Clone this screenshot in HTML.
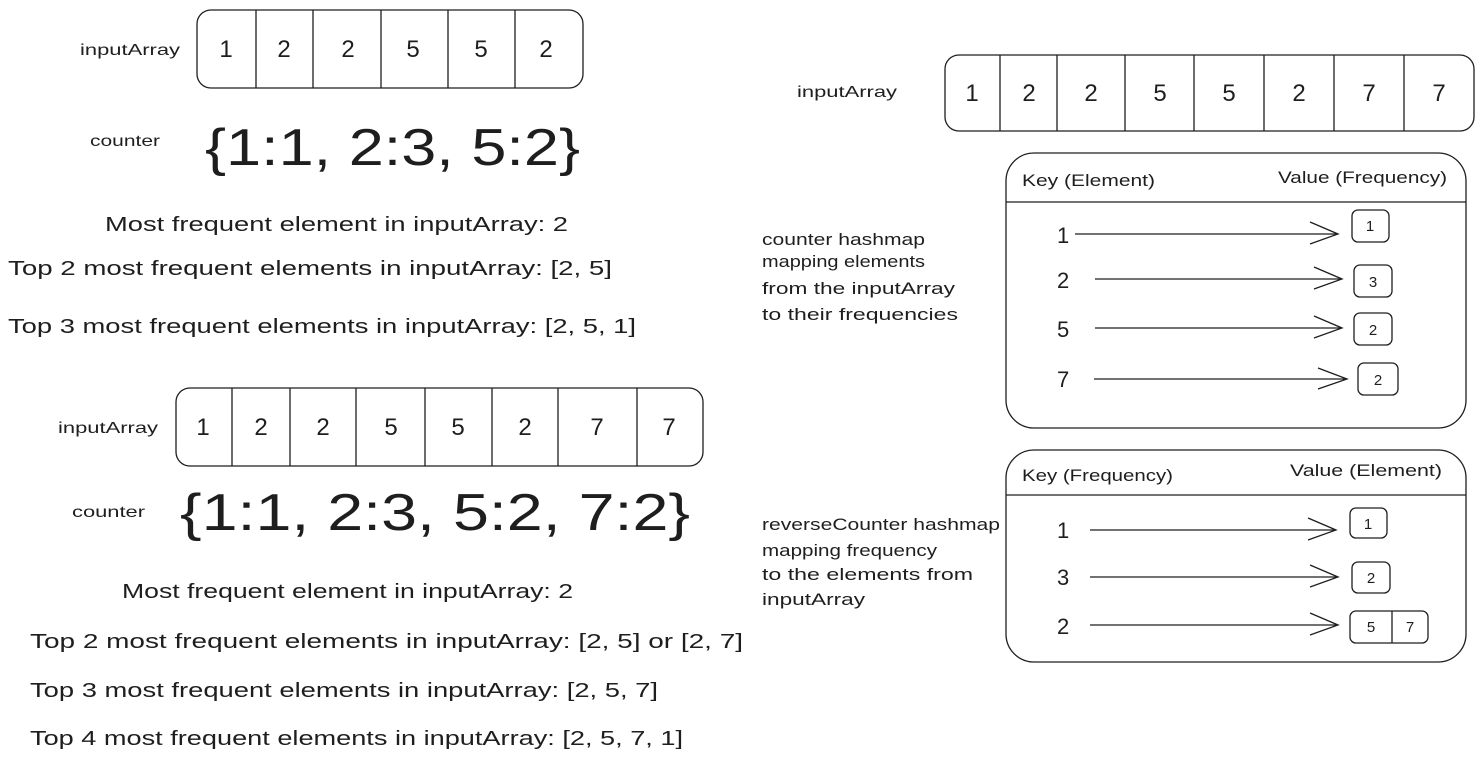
<!DOCTYPE html>
<html><head><meta charset="utf-8"><style>
html,body{margin:0;padding:0;background:#fff;}
svg{display:block;}
text{font-family:"Liberation Sans",sans-serif;fill:#1e1e1e;}
</style></head><body>
<svg width="1482" height="762" viewBox="0 0 1482 762" xmlns="http://www.w3.org/2000/svg">
<g fill="none" stroke="#1e1e1e" stroke-width="1.3">
<rect x="197" y="10" width="386" height="78" rx="14"/>
<path d="M256 10V88M313 10V88M381 10V88M448 10V88M515 10V88"/>
<rect x="176" y="388" width="527" height="78" rx="14"/>
<path d="M232 388V466M290 388V466M356 388V466M425 388V466M492 388V466M558 388V466M637 388V466"/>
<rect x="945" y="55" width="529" height="76" rx="14"/>
<path d="M1000 55V131M1057 55V131M1125 55V131M1194 55V131M1264 55V131M1334 55V131M1404 55V131"/>
<rect x="1006" y="153" width="460" height="275" rx="28"/>
<path d="M1006 202H1466"/>
<path d="M1075 234H1338M1310 222L1338 234L1310 244"/>
<rect x="1352" y="210" width="37" height="32" rx="6"/>
<path d="M1095 279H1342M1314 267L1342 279L1314 289"/>
<rect x="1354" y="265" width="38" height="32" rx="6"/>
<path d="M1095 328H1342M1314 316L1342 328L1314 338"/>
<rect x="1354" y="313" width="38" height="32" rx="6"/>
<path d="M1094 379H1347M1318 368L1347 379L1318 389"/>
<rect x="1358" y="363" width="40" height="32" rx="6"/>
<rect x="1006" y="450" width="460" height="212" rx="28"/>
<path d="M1006 495H1466"/>
<path d="M1090 530H1336M1308 518L1336 530L1308 540"/>
<rect x="1350" y="508" width="37" height="30" rx="6"/>
<path d="M1090 577H1338M1310 565L1338 577L1310 587"/>
<rect x="1352" y="562" width="38" height="31" rx="6"/>
<path d="M1090 625H1338M1310 613L1338 625L1310 635"/>
<rect x="1350" y="611" width="78" height="32" rx="6"/>
<path d="M1392 611V643"/>
</g>
<g font-size="16" lengthAdjust="spacingAndGlyphs">
<text x="80" y="55" textLength="100" lengthAdjust="spacingAndGlyphs">inputArray</text>
<text x="90" y="146" textLength="70" lengthAdjust="spacingAndGlyphs">counter</text>
<text x="58" y="433" textLength="100" lengthAdjust="spacingAndGlyphs">inputArray</text>
<text x="72" y="517" textLength="73" lengthAdjust="spacingAndGlyphs">counter</text>
<text x="797" y="97" textLength="100" lengthAdjust="spacingAndGlyphs">inputArray</text>
</g>
<g font-size="24" text-anchor="middle">
<text x="226" y="57">1</text><text x="284" y="57">2</text><text x="348" y="57">2</text><text x="413" y="57">5</text><text x="481" y="57">5</text><text x="546" y="57">2</text>
<text x="203" y="435">1</text><text x="261" y="435">2</text><text x="323" y="435">2</text><text x="391" y="435">5</text><text x="458" y="435">5</text><text x="525" y="435">2</text><text x="597" y="435">7</text><text x="669" y="435">7</text>
<text x="972" y="101">1</text><text x="1029" y="101">2</text><text x="1091" y="101">2</text><text x="1160" y="101">5</text><text x="1229" y="101">5</text><text x="1299" y="101">2</text><text x="1369" y="101">7</text><text x="1439" y="101">7</text>
</g>
<text x="205" y="165" font-size="52" textLength="375" lengthAdjust="spacingAndGlyphs">{1:1,  2:3,  5:2}</text>
<text x="180" y="530" font-size="52" textLength="510" lengthAdjust="spacingAndGlyphs">{1:1,  2:3,  5:2,  7:2}</text>
<g font-size="20">
<text x="105" y="231" textLength="463" lengthAdjust="spacingAndGlyphs">Most frequent element in inputArray: 2</text>
<text x="8" y="275" textLength="604" lengthAdjust="spacingAndGlyphs">Top 2 most frequent elements in inputArray: [2, 5]</text>
<text x="8" y="333" textLength="628" lengthAdjust="spacingAndGlyphs">Top 3 most frequent elements in inputArray: [2, 5, 1]</text>
<text x="122" y="598" textLength="451" lengthAdjust="spacingAndGlyphs">Most frequent element in inputArray: 2</text>
<text x="30" y="648" textLength="713" lengthAdjust="spacingAndGlyphs">Top 2 most frequent elements in inputArray: [2, 5] or [2, 7]</text>
<text x="30" y="697" textLength="628" lengthAdjust="spacingAndGlyphs">Top 3 most frequent elements in inputArray: [2, 5, 7]</text>
<text x="30" y="745" textLength="653" lengthAdjust="spacingAndGlyphs">Top 4 most frequent elements in inputArray: [2, 5, 7, 1]</text>
</g>
<g font-size="17">
<text x="1022" y="186" textLength="133" lengthAdjust="spacingAndGlyphs">Key (Element)</text>
<text x="1278" y="183" textLength="169" lengthAdjust="spacingAndGlyphs">Value (Frequency)</text>
<text x="1022" y="481" textLength="151" lengthAdjust="spacingAndGlyphs">Key (Frequency)</text>
<text x="1290" y="476" textLength="152" lengthAdjust="spacingAndGlyphs">Value (Element)</text>
<text x="762" y="245" textLength="163" lengthAdjust="spacingAndGlyphs">counter hashmap</text>
<text x="762" y="267" textLength="163" lengthAdjust="spacingAndGlyphs">mapping elements</text>
<text x="762" y="294" textLength="193" lengthAdjust="spacingAndGlyphs">from the inputArray</text>
<text x="762" y="320" textLength="196" lengthAdjust="spacingAndGlyphs">to their frequencies</text>
<text x="762" y="530" textLength="238" lengthAdjust="spacingAndGlyphs">reverseCounter hashmap</text>
<text x="762" y="556" textLength="175" lengthAdjust="spacingAndGlyphs">mapping frequency</text>
<text x="762" y="580" textLength="211" lengthAdjust="spacingAndGlyphs">to the elements from</text>
<text x="762" y="605" textLength="103" lengthAdjust="spacingAndGlyphs">inputArray</text>
</g>
<g font-size="22">
<text x="1057" y="243">1</text><text x="1057" y="288">2</text><text x="1057" y="337">5</text><text x="1057" y="387">7</text>
<text x="1057" y="538">1</text><text x="1057" y="585">3</text><text x="1057" y="634">2</text>
</g>
<g font-size="15" text-anchor="middle">
<text x="1370" y="231">1</text><text x="1373" y="287">3</text><text x="1373" y="335">2</text><text x="1378" y="385">2</text>
<text x="1368" y="529">1</text><text x="1371" y="583">2</text><text x="1371" y="632">5</text><text x="1410" y="632">7</text>
</g>
</svg>
</body></html>
